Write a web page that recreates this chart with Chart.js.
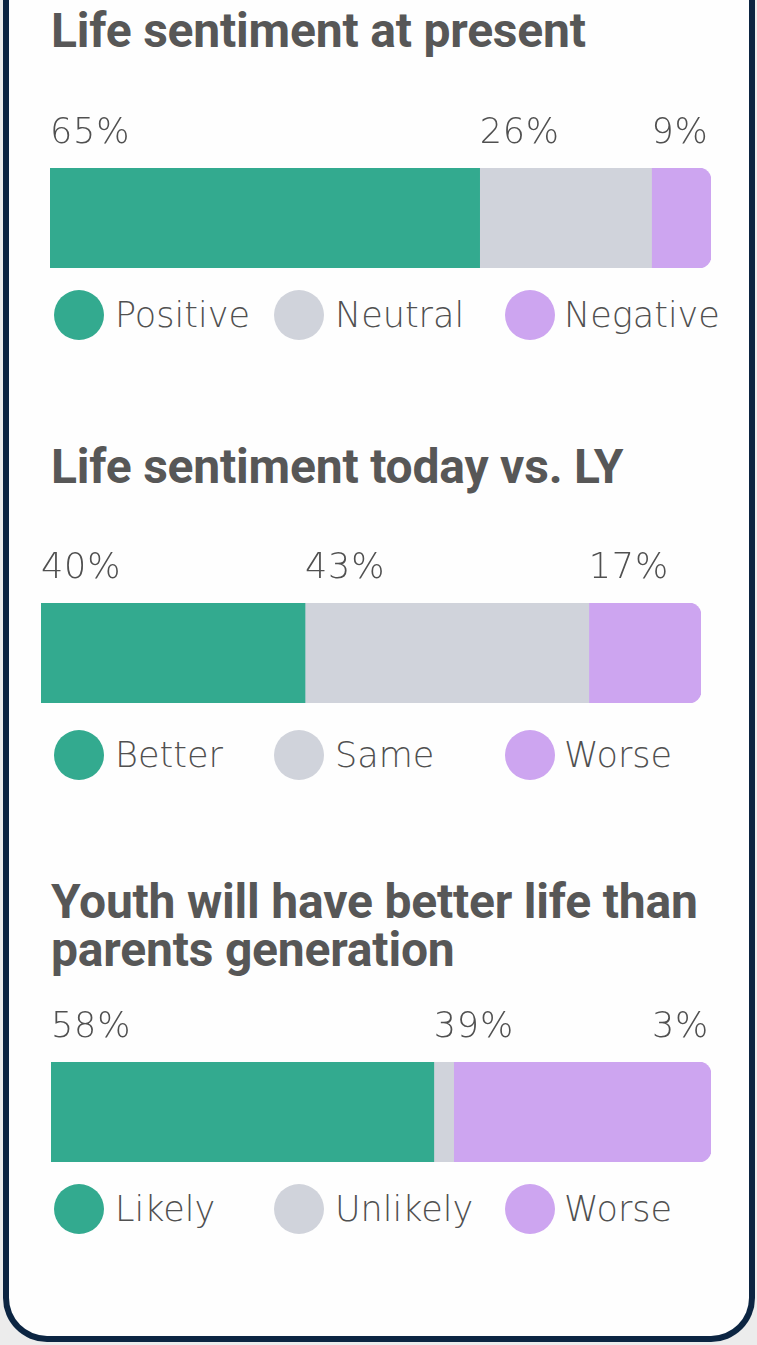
<!DOCTYPE html>
<html>
<head>
<meta charset="utf-8">
<script src="https://cdn.jsdelivr.net/npm/chart.js@4.4.1/dist/chart.umd.min.js"></script>
<style>
  html, body { margin: 0; padding: 0; background: #ececec; }
  #page { position: relative; width: 757px; height: 1345px; overflow: hidden; background: #ececec; }
  #frame { position: absolute; left: 3px; top: -20px; width: 752px; height: 1362px; box-sizing: border-box;
           border: 6px solid #0c2542; border-top: none; border-radius: 0 0 44px 44px; background: #fefefe; }
  .title { position: absolute; left: 51px; font-family: Roboto, "Liberation Sans", sans-serif; font-weight: 700;
           font-size: 48px; line-height: 48px; color: #575757; letter-spacing: -0.2px; white-space: nowrap; }
  .chartbox { position: absolute; left: 0; width: 757px; height: 160px; }
  .legend-item { position: absolute; height: 50px; }
  .dot { position: absolute; left: 0; top: 0; width: 50px; height: 50px; border-radius: 50%; }
  .ltext { position: absolute; left: 61px; top: 0; font-family: "DejaVu Sans", sans-serif; font-weight: 200;
           font-size: 35px; line-height: 50px; color: #505050; white-space: nowrap; }
</style>
</head>
<body>
<div id="page">
  <div id="frame"></div>
</div>
<script>
// ---------- data ----------
const presentTitle = 'Life sentiment at present';
const presentCategories = ['Positive', 'Neutral', 'Negative'];
const presentValues = [65, 26, 9];
const presentLabels = ['65%', '26%', '9%'];

const lyTitle = 'Life sentiment today vs. LY';
const lyCategories = ['Better', 'Same', 'Worse'];
const lyValues = [40, 43, 17];
const lyLabels = ['40%', '43%', '17%'];

const youthTitle = ['Youth will have better life than', 'parents generation'];
const youthCategories = ['Likely', 'Unlikely', 'Worse'];
const youthValues = [58, 3, 39];
const youthLabels = ['58%', '39%', '3%'];

const seriesColors = ['#33aa8f', '#d0d3db', '#cda5f0'];

// ---------- layout (styles / positions only) ----------
const sections = [
  { title: [presentTitle], cats: presentCategories, vals: presentValues, labels: presentLabels,
    titleTop: 7, barTop: 168, barLeft: 50, barRight: 711, legendCY: 315, legendGap: [11, 11, 9] },
  { title: [lyTitle], cats: lyCategories, vals: lyValues, labels: lyLabels,
    titleTop: 443, barTop: 603, barLeft: 41, barRight: 701, legendCY: 755, legendGap: [11, 11, 9] },
  { title: youthTitle, cats: youthCategories, vals: youthValues, labels: youthLabels,
    titleTop: 878, barTop: 1062, barLeft: 51, barRight: 711, legendCY: 1209, legendGap: [11, 11, 9] }
];
const legendCols = [54, 274, 505];
const LABEL_GAP = 60;

const pctLabelPlugin = {
  id: 'pctLabels',
  afterDatasetsDraw(chart, args, opts) {
    const ctx = chart.ctx;
    const area = chart.chartArea;
    ctx.save();
    ctx.font = '200 35px "DejaVu Sans", sans-serif';
    if ('letterSpacing' in ctx) ctx.letterSpacing = '0.8px';
    ctx.fillStyle = '#505050';
    ctx.textBaseline = 'alphabetic';
    ctx.textAlign = 'left';
    const limit = area.right - 2;
    let prevEnd = -Infinity;
    opts.labels.forEach((txt, i) => {
      const el = chart.getDatasetMeta(i).data[0];
      const w = ctx.measureText(txt).width;
      let x = Math.min(el.x, el.base);
      if (x < prevEnd + 10) x = limit - w;
      if (x + w > limit) x = limit - w;
      ctx.fillText(txt, x, area.top - 25);
      prevEnd = x + w;
    });
    ctx.restore();
  }
};

const page = document.getElementById('page');

sections.forEach((s) => {
  // title
  const t = document.createElement('div');
  t.className = 'title';
  t.style.top = s.titleTop + 'px';
  t.innerHTML = s.title.map(l => l.replace(/&/g, '&amp;')).join('<br>');
  page.appendChild(t);

  // chart
  const box = document.createElement('div');
  box.className = 'chartbox';
  box.style.top = (s.barTop - LABEL_GAP) + 'px';
  const cv = document.createElement('canvas');
  box.appendChild(cv);
  page.appendChild(box);

  new Chart(cv, {
    type: 'bar',
    data: {
      labels: [''],
      datasets: s.cats.map((c, i) => ({
        label: c,
        data: [s.vals[i]],
        backgroundColor: seriesColors[i],
        borderWidth: 0,
        borderRadius: i === s.cats.length - 1 ? 12 : 0,
        borderSkipped: 'start',
        categoryPercentage: 1,
        barPercentage: 1
      }))
    },
    options: {
      indexAxis: 'y',
      responsive: true,
      maintainAspectRatio: false,
      animation: false,
      layout: { padding: { left: s.barLeft, right: 757 - s.barRight, top: LABEL_GAP, bottom: 0 } },
      scales: {
        x: { stacked: true, min: 0, max: 100, display: false },
        y: { stacked: true, display: false }
      },
      plugins: {
        legend: { display: false },
        tooltip: { enabled: false },
        pctLabels: { labels: s.labels }
      }
    },
    plugins: [pctLabelPlugin]
  });

  // legend
  s.cats.forEach((c, i) => {
    const item = document.createElement('div');
    item.className = 'legend-item';
    item.style.left = legendCols[i] + 'px';
    item.style.top = (s.legendCY - 25) + 'px';
    const dot = document.createElement('div');
    dot.className = 'dot';
    dot.style.background = seriesColors[i];
    const tx = document.createElement('div');
    tx.className = 'ltext';
    tx.style.left = (50 + s.legendGap[i]) + 'px';
    tx.textContent = c;
    item.appendChild(dot);
    item.appendChild(tx);
    page.appendChild(item);
  });
});
</script>
</body>
</html>
